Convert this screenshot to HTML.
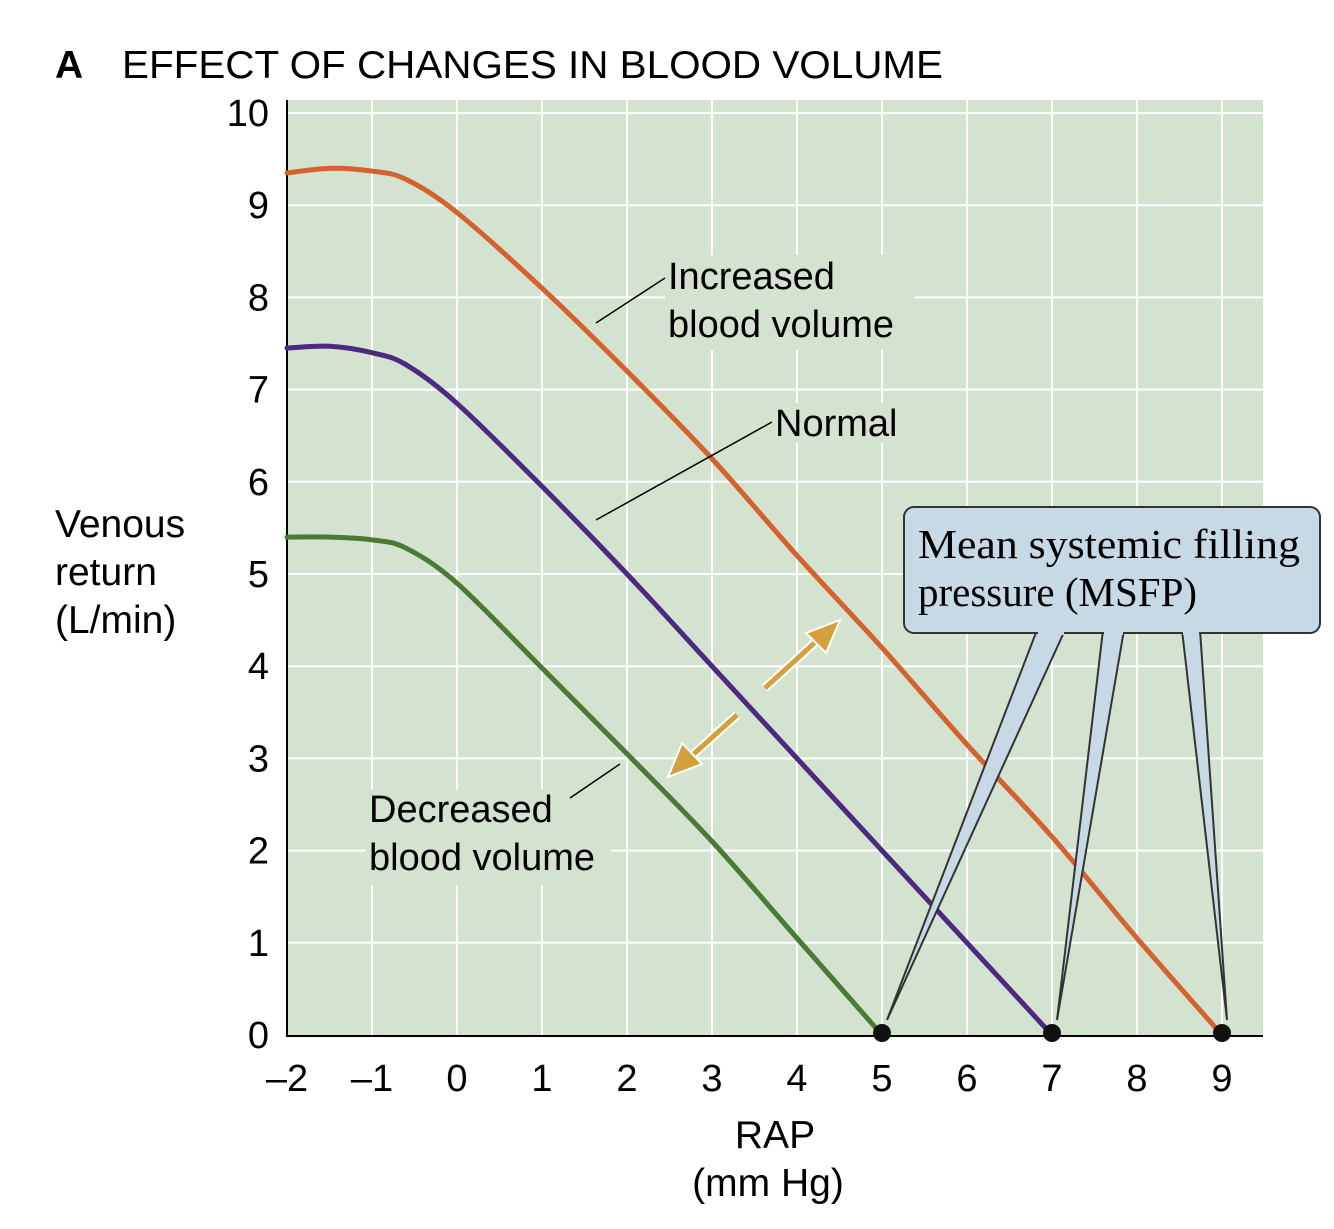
<!DOCTYPE html>
<html><head><meta charset="utf-8"><style>
body{margin:0;background:#fff;}
svg{display:block;font-family:"Liberation Sans",sans-serif;}
</style></head><body>
<svg id="chart" width="1334" height="1229" viewBox="0 0 1334 1229">
<text x="55" y="78" font-size="39" font-weight="bold">A</text>
<text x="122" y="78" font-size="39" textLength="821" lengthAdjust="spacingAndGlyphs">EFFECT OF CHANGES IN BLOOD VOLUME</text>
<rect x="287" y="100" width="976" height="935" fill="#d3e3d0"/>
<g id="grid"></g>
<g id="ticks"></g>
<line x1="287" y1="100" x2="287" y2="1036" stroke="#000" stroke-width="2"/>
<line x1="286" y1="1036" x2="1263" y2="1036" stroke="#000" stroke-width="2"/>
<text x="55" y="537" font-size="39"><tspan x="55">Venous</tspan><tspan x="55" dy="48">return</tspan><tspan x="55" dy="48">(L/min)</tspan></text>
<text x="775" y="1148" font-size="39" text-anchor="middle"><tspan x="775">RAP</tspan><tspan x="768" dy="48">(mm Hg)</tspan></text>
<g id="curves"></g>
<g font-size="38">
<rect x="665" y="255" width="250" height="95" fill="#d3e3d0"/>
<text x="668" y="289"><tspan x="668">Increased</tspan><tspan x="668" dy="48">blood volume</tspan></text>
<line x1="596" y1="323" x2="665" y2="278" stroke="#000" stroke-width="1.5"/>
<rect x="772" y="403" width="135" height="40" fill="#d3e3d0"/>
<text x="775" y="436">Normal</text>
<line x1="596" y1="520" x2="772" y2="422" stroke="#000" stroke-width="1.5"/>
<rect x="366" y="790" width="245" height="95" fill="#d3e3d0"/>
<text x="369" y="822"><tspan x="369">Decreased</tspan><tspan x="369" dy="48">blood volume</tspan></text>
<line x1="570" y1="798" x2="620" y2="764" stroke="#000" stroke-width="1.5"/>
</g>
<g>
<line x1="765" y1="688" x2="822" y2="636" stroke="#fff" stroke-width="9"/>
<line x1="765" y1="688" x2="822" y2="636" stroke="#d4a03c" stroke-width="5"/>
<polygon points="840,620 806,633 826,653" fill="#d4a03c" stroke="#fff" stroke-width="2"/>
<line x1="737" y1="715" x2="686" y2="761" stroke="#fff" stroke-width="9"/>
<line x1="737" y1="715" x2="686" y2="761" stroke="#d4a03c" stroke-width="5"/>
<polygon points="668,777 682,743 702,764" fill="#d4a03c" stroke="#fff" stroke-width="2"/>
</g>
<g id="callout"></g>
<g id="dots"></g>
</svg>
<script>
const xTicks=[-2,-1,0,1,2,3,4,5,6,7,8,9];
const xTickLabels=["\u20132","\u20131","0","1","2","3","4","5","6","7","8","9"];
const yTicks=[0,1,2,3,4,5,6,7,8,9,10];
const incX=[-2,-1.5,-1,-0.6,0,1,2,3,4,5,6,7,8,9];
const incY=[9.35,9.4,9.37,9.28,8.92,8.1,7.2,6.25,5.2,4.2,3.15,2.15,1.05,0];
const normX=[-2,-1.5,-1,-0.6,0,1,2,3,4,5,6,7];
const normY=[7.45,7.47,7.4,7.27,6.85,5.95,5.0,4.0,3.0,2.0,1.0,0];
const decX=[-2,-1.5,-1,-0.6,0,1,2,3,4,5];
const decY=[5.4,5.4,5.37,5.28,4.9,3.98,3.05,2.1,1.05,0];
const msfp=[5,7,9];
const NS="http://www.w3.org/2000/svg";
const sx=v=>457+85*v;
const sy=v=>1035-92.2*v;
function mk(tag,attrs,parent){const e=document.createElementNS(NS,tag);for(const k in attrs)e.setAttribute(k,attrs[k]);parent.appendChild(e);return e;}
const grid=document.getElementById('grid'),ticks=document.getElementById('ticks');
xTicks.forEach((t,i)=>{
 if(i>0){const l=mk('line',{x1:sx(t),x2:sx(t),y1:100,y2:1035,stroke:'#fff','stroke-width':2},grid);
 
 }
 const tx=mk('text',{x:sx(t),y:1091,'font-size':38,'text-anchor':'middle'},ticks);tx.textContent=xTickLabels[i];
 
 
});
yTicks.forEach(t=>{
 if(t>0){const l=mk('line',{x1:287,x2:1263,y1:sy(t),y2:sy(t),stroke:'#fff','stroke-width':2},grid);
 
 }
 const tx=mk('text',{x:269,y:sy(t)+13,'font-size':38,'text-anchor':'end'},ticks);tx.textContent=t;
 
 
});
function smooth(xs,ys){const p=xs.map((x,i)=>[sx(x),sy(ys[i])]);let d='M'+p[0];
 for(let i=0;i<p.length-1;i++){const p0=p[i-1]||p[i],p1=p[i],p2=p[i+1],p3=p[i+2]||p2;
 const c1=[p1[0]+(p2[0]-p0[0])/6,p1[1]+(p2[1]-p0[1])/6],c2=[p2[0]-(p3[0]-p1[0])/6,p2[1]-(p3[1]-p1[1])/6];
 d+=' C'+c1+' '+c2+' '+p2;}return d;}
const curves=document.getElementById('curves');
[[incX,incY,'#d4622e','curve-increased'],[normX,normY,'#4b2a80','curve-normal'],[decX,decY,'#4a7a35','curve-decreased']].forEach(c=>{
 const p=mk('path',{d:smooth(c[0],c[1]),fill:'none',stroke:c[2],'stroke-width':5,'stroke-linecap':'round'},curves);
 
 
});
const call=document.getElementById('callout');
const bases=[[1037,1065],[1103,1124],[1182,1200]];
msfp.forEach((m,i)=>{
 const px=sx(m)+5,py=1020;
 const w=mk('polygon',{points:`${bases[i][0]},630 ${bases[i][1]},630 ${px},${py}`,fill:'#c8d9e6',stroke:'#333','stroke-width':2},call);
 
 
});
const box=mk('rect',{x:904,y:507,width:416,height:126,rx:10,fill:'#c8d9e6',stroke:'#333','stroke-width':2},call);


bases.forEach(b=>{mk('rect',{x:b[0]+1,y:625,width:b[1]-b[0]-2,height:10,fill:'#c8d9e6'},call);});
const ct=mk('text',{x:918,y:558,'font-size':41,'font-family':'"Liberation Serif",serif'},call);
ct.innerHTML='<tspan x="918" textLength="382" lengthAdjust="spacingAndGlyphs">Mean systemic filling</tspan><tspan x="918" dy="48">pressure (MSFP)</tspan>';


const dots=document.getElementById('dots');
msfp.forEach(m=>{const c=mk('circle',{cx:sx(m),cy:1033,r:9,fill:'#111'},dots);
 
 });
</script>
</body></html>
